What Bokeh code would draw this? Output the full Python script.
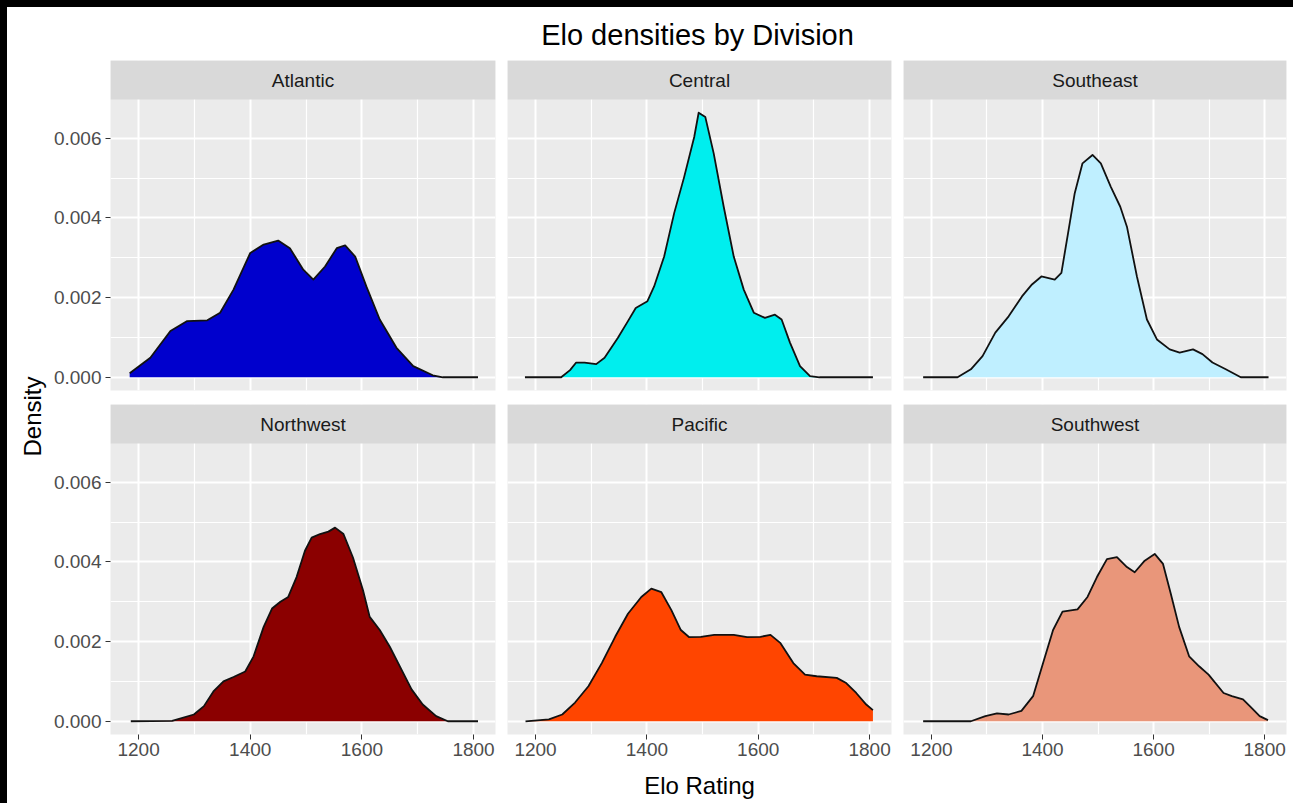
import math
from bokeh.plotting import figure
from bokeh.models import Range1d, LinearAxis, Grid, FixedTicker, NumeralTickFormatter, Label
from bokeh.layouts import row, column
from bokeh.embed import file_html
from bokeh.resources import INLINE

FONT = "Liberation Sans"

# ---------------- data ----------------
divisions = ["Atlantic", "Central", "Southeast", "Northwest", "Pacific", "Southwest"]

atlantic_x = [1184, 1221, 1257, 1287, 1323, 1346, 1370, 1400, 1424, 1450, 1471, 1495, 1513, 1534,
              1555, 1570, 1588, 1608, 1632, 1662, 1692, 1727, 1745, 1808]
atlantic_d = [0.00010, 0.00049, 0.00116, 0.00141, 0.00143, 0.00162, 0.00220, 0.00312, 0.00333,
              0.00343, 0.00324, 0.00270, 0.00245, 0.00278, 0.00324, 0.00331, 0.00303, 0.00228,
              0.00145, 0.00074, 0.00028, 0.00005, 0.00000, 0.00000]

central_x = [1181, 1246, 1262, 1273, 1288, 1309, 1324, 1348, 1366, 1380, 1401, 1413, 1431, 1449,
             1467, 1485, 1493, 1505, 1520, 1538, 1556, 1574, 1592, 1612, 1630, 1642, 1657, 1675,
             1693, 1710, 1806]
central_d = [0.0, 0.0, 0.00018, 0.00037, 0.00037, 0.00033, 0.00049, 0.00099, 0.00141, 0.00174,
             0.00191, 0.00228, 0.00303, 0.00412, 0.00503, 0.00603, 0.00664, 0.00653, 0.00562,
             0.00428, 0.00303, 0.00220, 0.00162, 0.00149, 0.00157, 0.00145, 0.00087, 0.00028,
             0.00003, 0.0, 0.0]

southeast_x = [1185, 1247, 1271, 1292, 1315, 1339, 1363, 1381, 1398, 1422, 1434, 1446, 1458, 1472,
               1490, 1505, 1523, 1540, 1552, 1570, 1588, 1606, 1629, 1647, 1671, 1688, 1706, 1730,
               1757, 1807]
southeast_d = [0.0, 0.0, 0.00020, 0.00053, 0.00112, 0.00153, 0.00203, 0.00233, 0.00253, 0.00245,
               0.00262, 0.00362, 0.00462, 0.00537, 0.00558, 0.00537, 0.00478, 0.00428, 0.00378,
               0.00253, 0.00145, 0.00095, 0.00070, 0.00062, 0.00070, 0.00058, 0.00037, 0.00020,
               0.0, 0.0]

northwest_x = [1186, 1260, 1299, 1317, 1334, 1352, 1370, 1391, 1406, 1424, 1439, 1454, 1468, 1483,
               1498, 1510, 1525, 1540, 1552, 1567, 1584, 1602, 1614, 1632, 1650, 1668, 1689, 1709,
               1733, 1754, 1808]
northwest_d = [0.0, 0.00001, 0.00017, 0.00038, 0.00075, 0.00100, 0.00111, 0.00125, 0.00163,
               0.00237, 0.00283, 0.00300, 0.00312, 0.00362, 0.00428, 0.00461, 0.00470, 0.00476,
               0.00486, 0.00470, 0.00411, 0.00329, 0.00262, 0.00229, 0.00187, 0.00138, 0.00080,
               0.00042, 0.00013, 0.0, 0.0]

pacific_x = [1182, 1224, 1248, 1271, 1295, 1319, 1343, 1366, 1390, 1408, 1426, 1444, 1461, 1476,
             1497, 1521, 1556, 1580, 1604, 1622, 1640, 1663, 1684, 1705, 1741, 1758, 1776, 1794,
             1806]
pacific_d = [0.0, 0.00005, 0.00017, 0.00047, 0.00088, 0.00146, 0.00212, 0.00270, 0.00312, 0.00333,
             0.00324, 0.00279, 0.00229, 0.00211, 0.00212, 0.00217, 0.00217, 0.00211, 0.00212,
             0.00217, 0.00196, 0.00146, 0.00117, 0.00113, 0.00109, 0.00096, 0.00071, 0.00042,
             0.00028]

southwest_x = [1185, 1271, 1297, 1318, 1339, 1362, 1383, 1401, 1419, 1436, 1463, 1481, 1498, 1516,
               1534, 1552, 1566, 1584, 1602, 1617, 1631, 1646, 1664, 1682, 1699, 1726, 1741, 1761,
               1776, 1791, 1806]
southwest_d = [0.0, 0.0, 0.00013, 0.00020, 0.00017, 0.00026, 0.00063, 0.00146, 0.00229, 0.00275,
               0.00281, 0.00312, 0.00362, 0.00407, 0.00412, 0.00387, 0.00374, 0.00403, 0.00420,
               0.00395, 0.00320, 0.00237, 0.00163, 0.00138, 0.00117, 0.00071, 0.00063, 0.00055,
               0.00034, 0.00013, 0.00003]

series = {
    "Atlantic": (atlantic_x, atlantic_d),
    "Central": (central_x, central_d),
    "Southeast": (southeast_x, southeast_d),
    "Northwest": (northwest_x, northwest_d),
    "Pacific": (pacific_x, pacific_d),
    "Southwest": (southwest_x, southwest_d),
}

x_ticks = [1200, 1400, 1600, 1800]
x_minor = [1300, 1500, 1700]
y_ticks = [0.0, 0.002, 0.004, 0.006]
y_minor = [0.001, 0.003, 0.005]

title_text = "Elo densities by Division"
x_title = "Elo Rating"
y_title = "Density"

# ---------------- styles ----------------
fill_colors = {
    "Atlantic": "#0000CD",
    "Central": "#00EEEE",
    "Southeast": "#BFEFFF",
    "Northwest": "#8B0000",
    "Pacific": "#FF4500",
    "Southwest": "#E9967A",
}

# shared scales (ggplot-like 5% expansion)
all_x = [v for n in divisions for v in series[n][0]]
all_d = [v for n in divisions for v in series[n][1]]
x_lo = min(all_x) - 0.05 * (max(all_x) - min(all_x))
x_hi = max(all_x) + 0.05 * (max(all_x) - min(all_x))
y_lo = 0 - 0.05 * max(all_d)
y_hi = max(all_d) + 0.05 * max(all_d)
PLOT_H = 291
STRIP_H = 39
y_top = y_hi + (y_hi - y_lo) * STRIP_H / PLOT_H

LEFT_W = 42
# column geometry: (width, min_border_left, min_border_right)
col_geom = [(451, 60, 6), (396, 6, 6), (396, 6, 7)]
row_geom = [(344, 14), (399, 69)]  # (height, min_border_bottom)


def style_axis(ax):
    ax.axis_line_color = None
    ax.major_tick_line_color = "#333333"
    ax.major_tick_line_width = 1
    ax.major_tick_in = 0
    ax.major_tick_out = 5
    ax.minor_tick_line_color = None
    ax.major_label_text_font = FONT
    ax.major_label_text_font_size = "19px"
    ax.major_label_text_color = "#4D4D4D"


def make_panel(name, ci, ri):
    w, bl, br = col_geom[ci]
    h, bb = row_geom[ri]
    p = figure(width=w, height=h, x_range=Range1d(x_lo, x_hi), y_range=Range1d(y_lo, y_top),
               x_axis_location=None, y_axis_location=None, toolbar_location=None,
               output_backend="svg", min_border_left=bl, min_border_right=br,
               min_border_top=0, min_border_bottom=bb)
    p.center = []
    p.background_fill_color = "#EBEBEB"
    p.border_fill_color = "white"
    p.outline_line_color = None
    p.add_layout(Grid(dimension=0, ticker=FixedTicker(ticks=x_ticks, minor_ticks=x_minor),
                      grid_line_color="white", grid_line_width=2,
                      minor_grid_line_color="white", minor_grid_line_width=1.2))
    p.add_layout(Grid(dimension=1, ticker=FixedTicker(ticks=y_ticks, minor_ticks=y_minor),
                      grid_line_color="white", grid_line_width=2,
                      minor_grid_line_color="white", minor_grid_line_width=1.2))
    xs, ds = series[name]
    p.varea(x=xs, y1=[0.0] * len(xs), y2=ds, fill_color=fill_colors[name])
    p.line(x=xs, y=ds, line_color="#111111", line_width=1.8, line_join="round")
    # strip
    p.quad(left=[x_lo], right=[x_hi], bottom=[y_hi], top=[y_top],
           fill_color="#D9D9D9", line_color=None)
    p.add_layout(Label(x=(x_lo + x_hi) / 2, y=(y_hi + y_top) / 2, text=name,
                       text_align="center", text_baseline="middle", text_font=FONT,
                       text_font_size="19px", text_color="#1A1A1A"))
    if ci == 0:
        ax = LinearAxis(ticker=FixedTicker(ticks=y_ticks),
                        formatter=NumeralTickFormatter(format="0.000"))
        style_axis(ax)
        ax.major_label_standoff = 4
        p.add_layout(ax, "left")
    if ri == 1:
        ax = LinearAxis(ticker=FixedTicker(ticks=x_ticks))
        style_axis(ax)
        ax.major_label_standoff = 3
        if ci == 1:
            ax.axis_label = x_title
            ax.axis_label_text_font = FONT
            ax.axis_label_text_font_size = "24px"
            ax.axis_label_text_font_style = "normal"
            ax.axis_label_text_color = "black"
            ax.axis_label_standoff = 13
        p.add_layout(ax, "below")
    return p


panels = [make_panel(n, i % 3, i // 3) for i, n in enumerate(divisions)]


def blank_fig(w, h):
    f = figure(width=w, height=h, x_range=Range1d(0, w), y_range=Range1d(0, h),
               x_axis_location=None, y_axis_location=None, toolbar_location=None,
               output_backend="svg", min_border=0)
    f.center = []
    f.outline_line_color = None
    f.background_fill_color = "white"
    f.border_fill_color = "white"
    return f


top_fig = blank_fig(1285, 52)
top_fig.add_layout(Label(x=689, y=26, text=title_text, text_align="center",
                         text_baseline="alphabetic", text_font=FONT,
                         text_font_size="29px", text_color="black"))

left_fig = blank_fig(LEFT_W, 712)
left_fig.add_layout(Label(x=24, y=356, text=y_title, angle=math.pi / 2,
                          text_align="center", text_baseline="middle", text_font=FONT,
                          text_font_size="24px", text_color="black"))

layout = column(top_fig,
                row(left_fig, column(row(*panels[:3]), row(*panels[3:]))))

html = file_html(layout, INLINE)
html = html.replace("</head>",
                    "<style>html,body{overflow:hidden;}body{margin:0;padding:1px 0 0 1px;"
                    "border-top:7px solid #000;border-left:7px solid #000;}</style></head>", 1)
open("out.html", "w").write(html)
